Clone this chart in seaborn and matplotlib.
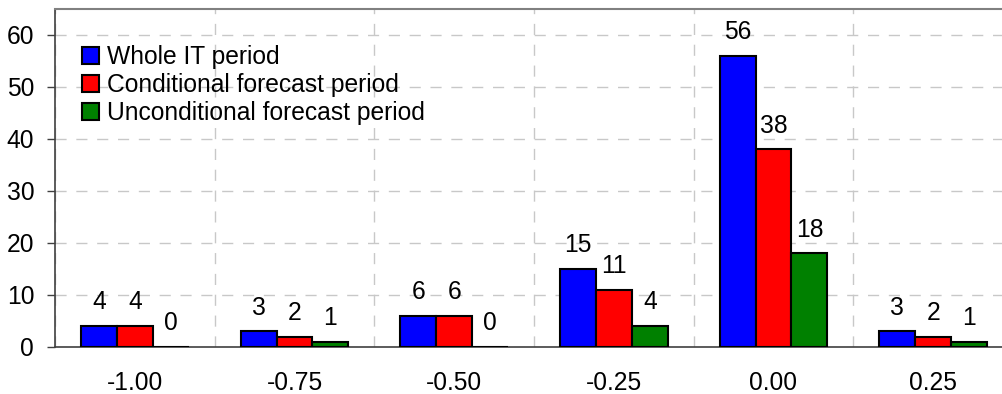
import numpy as np
import pandas as pd
import matplotlib
matplotlib.use("Agg")
import matplotlib.pyplot as plt
import seaborn as sns

# values
categories = ["-1.00", "-0.75", "-0.50", "-0.25", "0.00", "0.25"]
whole_it = [4, 3, 6, 15, 56, 3]
conditional = [4, 2, 6, 11, 38, 2]
unconditional = [0, 1, 0, 4, 18, 1]
series_names = ["Whole IT period", "Conditional forecast period", "Unconditional forecast period"]
colors = ["#0000FF", "#FF0000", "#008000"]

df = pd.DataFrame({
    "category": categories * 3,
    "value": whole_it + conditional + unconditional,
    "series": [series_names[0]] * 6 + [series_names[1]] * 6 + [series_names[2]] * 6,
})

sns.set_style("white")
plt.rcParams["font.family"] = ["Liberation Sans", "DejaVu Sans"]
plt.rcParams["text.color"] = "black"
fs = 17.7

fig = plt.figure(figsize=(10.03, 3.94), dpi=100)
ax = fig.add_axes([55 / 1003, 47 / 394, 958 / 1003, 338 / 394])

sns.barplot(data=df, x="category", y="value", hue="series", order=categories,
            hue_order=series_names, palette=colors, saturation=1, width=0.675,
            errorbar=None, edgecolor="black", linewidth=1.5, ax=ax, zorder=3)

for cont in ax.containers:
    ax.bar_label(cont, padding=8.5, fontsize=fs, color="black")

ax.set_xlim(-0.5, 5.5)
ax.set_ylim(0, 65)
ax.set_yticks(range(0, 61, 10))
ax.set_xlabel("")
ax.set_ylabel("")

# ticks: labels at the centres, tick marks at the group boundaries
ax.set_xticks(np.arange(-0.5, 6, 1), minor=True)
ax.tick_params(axis="x", which="major", length=0, pad=17, labelsize=fs, labelcolor="black")
ax.tick_params(axis="x", which="minor", length=6, width=1, color="#404040", direction="out")
ax.tick_params(axis="y", length=6, width=1, color="#404040", pad=9, labelsize=fs,
               labelcolor="black", left=True)

ax.grid(False)
ax.xaxis.grid(True, which="minor", linestyle=(0, (8, 7)), color="#c8c8c8", linewidth=1, zorder=0)
ax.yaxis.grid(True, which="major", linestyle=(0, (8, 7)), color="#c8c8c8", linewidth=1, zorder=0)
ax.set_axisbelow(True)

for side in ["left", "bottom"]:
    ax.spines[side].set_color("#404040")
    ax.spines[side].set_linewidth(1.2)
ax.spines["top"].set_color("#808080")
ax.spines["top"].set_linewidth(1.5)
ax.spines["right"].set_visible(False)

leg = ax.legend(loc="upper left", bbox_to_anchor=(82 / 1003, 349 / 394),
                bbox_transform=fig.transFigure, frameon=False, fontsize=fs,
                borderpad=0, borderaxespad=0, handlelength=0.7, handleheight=0.7,
                handletextpad=0.33, labelspacing=0.16)
for t in leg.get_texts():
    t.set_color("black")

fig.savefig("out.png", dpi=100)
